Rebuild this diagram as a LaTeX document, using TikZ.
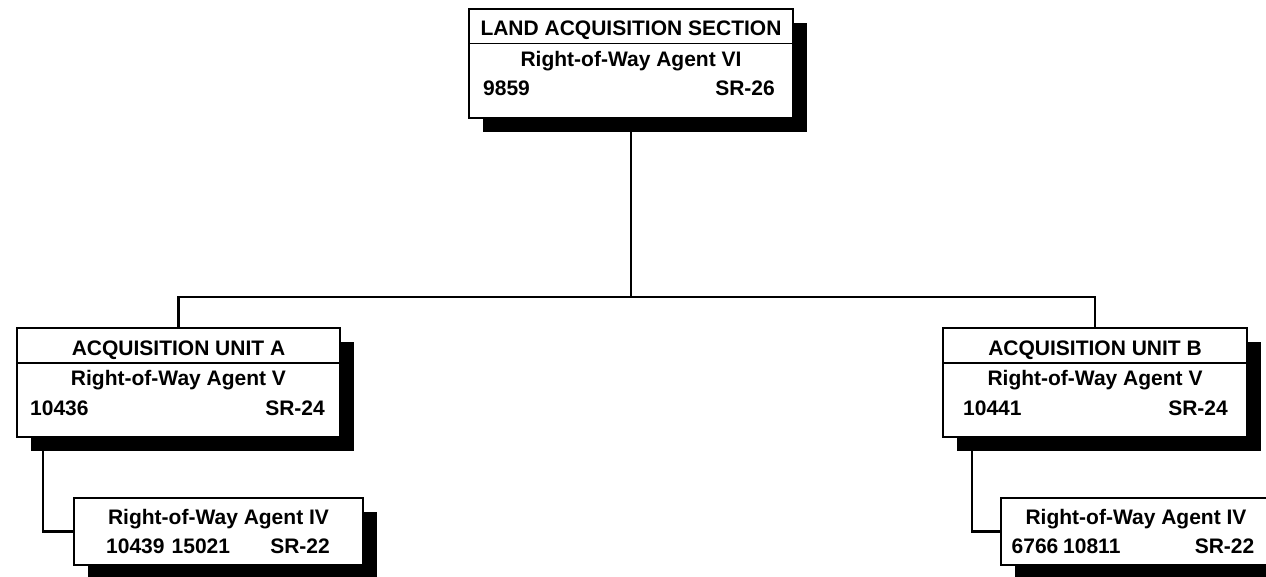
\documentclass[tikz,border=0pt]{standalone}
\usepackage{fontspec}
\setmainfont{Liberation Sans}
\usetikzlibrary{shadows,backgrounds}
\begin{document}
\begin{tikzpicture}[x=1pt,y=-1pt,
  box/.style={draw=black,line width=2pt,fill=white,rectangle,inner sep=0pt,
    general shadow={fill=black,shadow xshift=13.5pt,shadow yshift=-13.5pt}},
  conn/.style={draw=black,line width=2.2pt},
  sep/.style={draw=black,line width=1.6pt},
  txt/.style={inner sep=0pt,font=\fontsize{21}{25}\selectfont\bfseries}
]
\clip (0,0) rectangle (1266,576);
\useasboundingbox (0,0) rectangle (1266,576);

\coordinate (bus) at (631,297);
\coordinate (aStem) at (43.3,437);
\coordinate (bStem) at (971.7,437);

% boxes
\node[box,minimum width=324pt,minimum height=109pt] (top) at (631,63.5) {};
\node[box,minimum width=323pt,minimum height=109pt] (uA) at (178.5,382.5) {};
\node[box,minimum width=304pt,minimum height=109pt] (uB) at (1095,382.5) {};
\node[box,minimum width=289pt,minimum height=67pt] (cA) at (218.5,531.5) {};
\node[box,minimum width=270pt,minimum height=67pt] (cB) at (1136,531.5) {};

% connectors behind the boxes and shadows
\begin{scope}[on background layer]
\draw[conn] (top.south) -- (bus);
\draw[conn] (uA.north) |- (bus) -| (uB.north);
\draw[conn] (aStem) |- (cA.west);
\draw[conn] (bStem) |- (cB.west);
\end{scope}

% header separators
\draw[sep] (top.west |- 0,43.3) -- (top.east |- 0,43.3);
\draw[sep] (uA.west |- 0,363) -- (uA.east |- 0,363);
\draw[sep] (uB.west |- 0,363) -- (uB.east |- 0,363);

% top box text
\node[txt,anchor=base] (tH) at (631,35.7) {LAND ACQUISITION SECTION};
\node[txt,anchor=base] (tT) at (631,66.7) {Right-of-Way Agent VI};
\node[txt,anchor=base west] (tN) at (483,95.5) {9859};
\node[txt,anchor=base east] (tS) at (775,95.5) {SR-26};

% unit A text
\node[txt,anchor=base] (aH) at (178.5,355) {ACQUISITION UNIT A};
\node[txt,anchor=base] (aT) at (178.5,385.5) {Right-of-Way Agent V};
\node[txt,anchor=base west] (aN) at (30,415) {10436};
\node[txt,anchor=base east] (aS) at (325,415) {SR-24};

% unit B text
\node[txt,anchor=base] (bH) at (1095,355) {ACQUISITION UNIT B};
\node[txt,anchor=base] (bT) at (1095,385.5) {Right-of-Way Agent V};
\node[txt,anchor=base west] (bN) at (963,415) {10441};
\node[txt,anchor=base east] (bS) at (1228,415) {SR-24};

% child A text
\node[txt,anchor=base] (caT) at (218.5,524) {Right-of-Way Agent IV};
\node[txt,anchor=base west] (caN1) at (106,553) {10439};
\node[txt,anchor=base west] (caN2) at (171.5,553) {15021};
\node[txt,anchor=base east] (caS) at (330,553) {SR-22};

% child B text
\node[txt,anchor=base] (cbT) at (1136,524) {Right-of-Way Agent IV};
\node[txt,anchor=base west] (cbN1) at (1011.5,553) {6766};
\node[txt,anchor=base west] (cbN2) at (1063,553) {10811};
\node[txt,anchor=base east] (cbS) at (1254.5,553) {SR-22};
\end{tikzpicture}
\end{document}
